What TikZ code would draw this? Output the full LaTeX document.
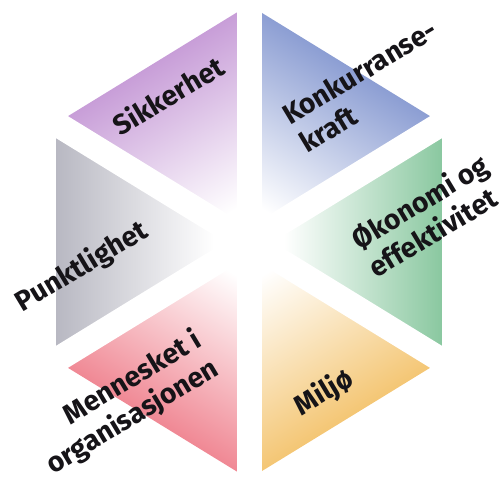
\documentclass[tikz,border=0pt]{standalone}
\usepackage{fontspec}
\setmainfont{Fira Sans}
\usetikzlibrary{calc}
\definecolor{cpurple}{RGB}{200,158,216}
\definecolor{cblue}{RGB}{140,158,211}
\definecolor{cgreen}{RGB}{138,200,160}
\definecolor{corange}{RGB}{244,198,116}
\definecolor{cpink}{RGB}{240,136,148}
\definecolor{cgrey}{RGB}{184,184,194}
\definecolor{ctext}{RGB}{22,20,24}
\begin{document}
\begin{tikzpicture}[x=1pt,y=1pt,
  lbl/.style={font=\bfseries\fontsize{28}{33}\selectfont, text=ctext, rotate=31, inner sep=0pt},
  gap/.style={draw=white, line width=25pt}]
\useasboundingbox (0,0) rectangle (504,481);
\coordinate (C) at (249,239);
\coordinate (T) at (249,476);
\coordinate (UL) at (56,357.5);
\coordinate (LL) at (56,120.5);
\coordinate (B) at (249,2);
\coordinate (LR) at (442,120.5);
\coordinate (UR) at (442,357.5);
% sectors with linear fade towards the centre
\foreach \a/\b/\phi/\d/\col in {UL/T/121.55/202/cpurple, T/UR/58.45/202/cblue, UR/LR/0/193/cgreen,
    LR/B/-58.45/202/corange, B/LL/238.45/202/cpink, LL/UL/180/193/cgrey}{
  \begin{scope}
    \clip (C) -- (\a) -- (\b) -- cycle;
    \shade[transform canvas={rotate around={\phi-90:(C)}}, top color=\col, bottom color=white]
      ($(C)+(-260,35)$) rectangle ($(C)+(260,\d)$);
  \end{scope}
}
% white gaps along the spokes
\foreach \v in {T,UR,LR,B,LL,UL}{
  \draw[gap] (C) -- ($(C)!1.2!(\v)$);
}
\node[lbl] (sik) at (168,386) {Sikkerhet};
\node[lbl, align=left] (kon) at (368,395) {Konkurranse-\\kraft};
\node[lbl, align=left] (oko) at (428,266) {Økonomi og\\effektivitet};
\node[lbl] (pun) at (82,214) {Punktlighet};
\node[lbl, align=right] (men) at (124,78) {Mennesket i\\organisasjonen};
\node[lbl] (mil) at (324,88) {Miljø};
\end{tikzpicture}
\end{document}
